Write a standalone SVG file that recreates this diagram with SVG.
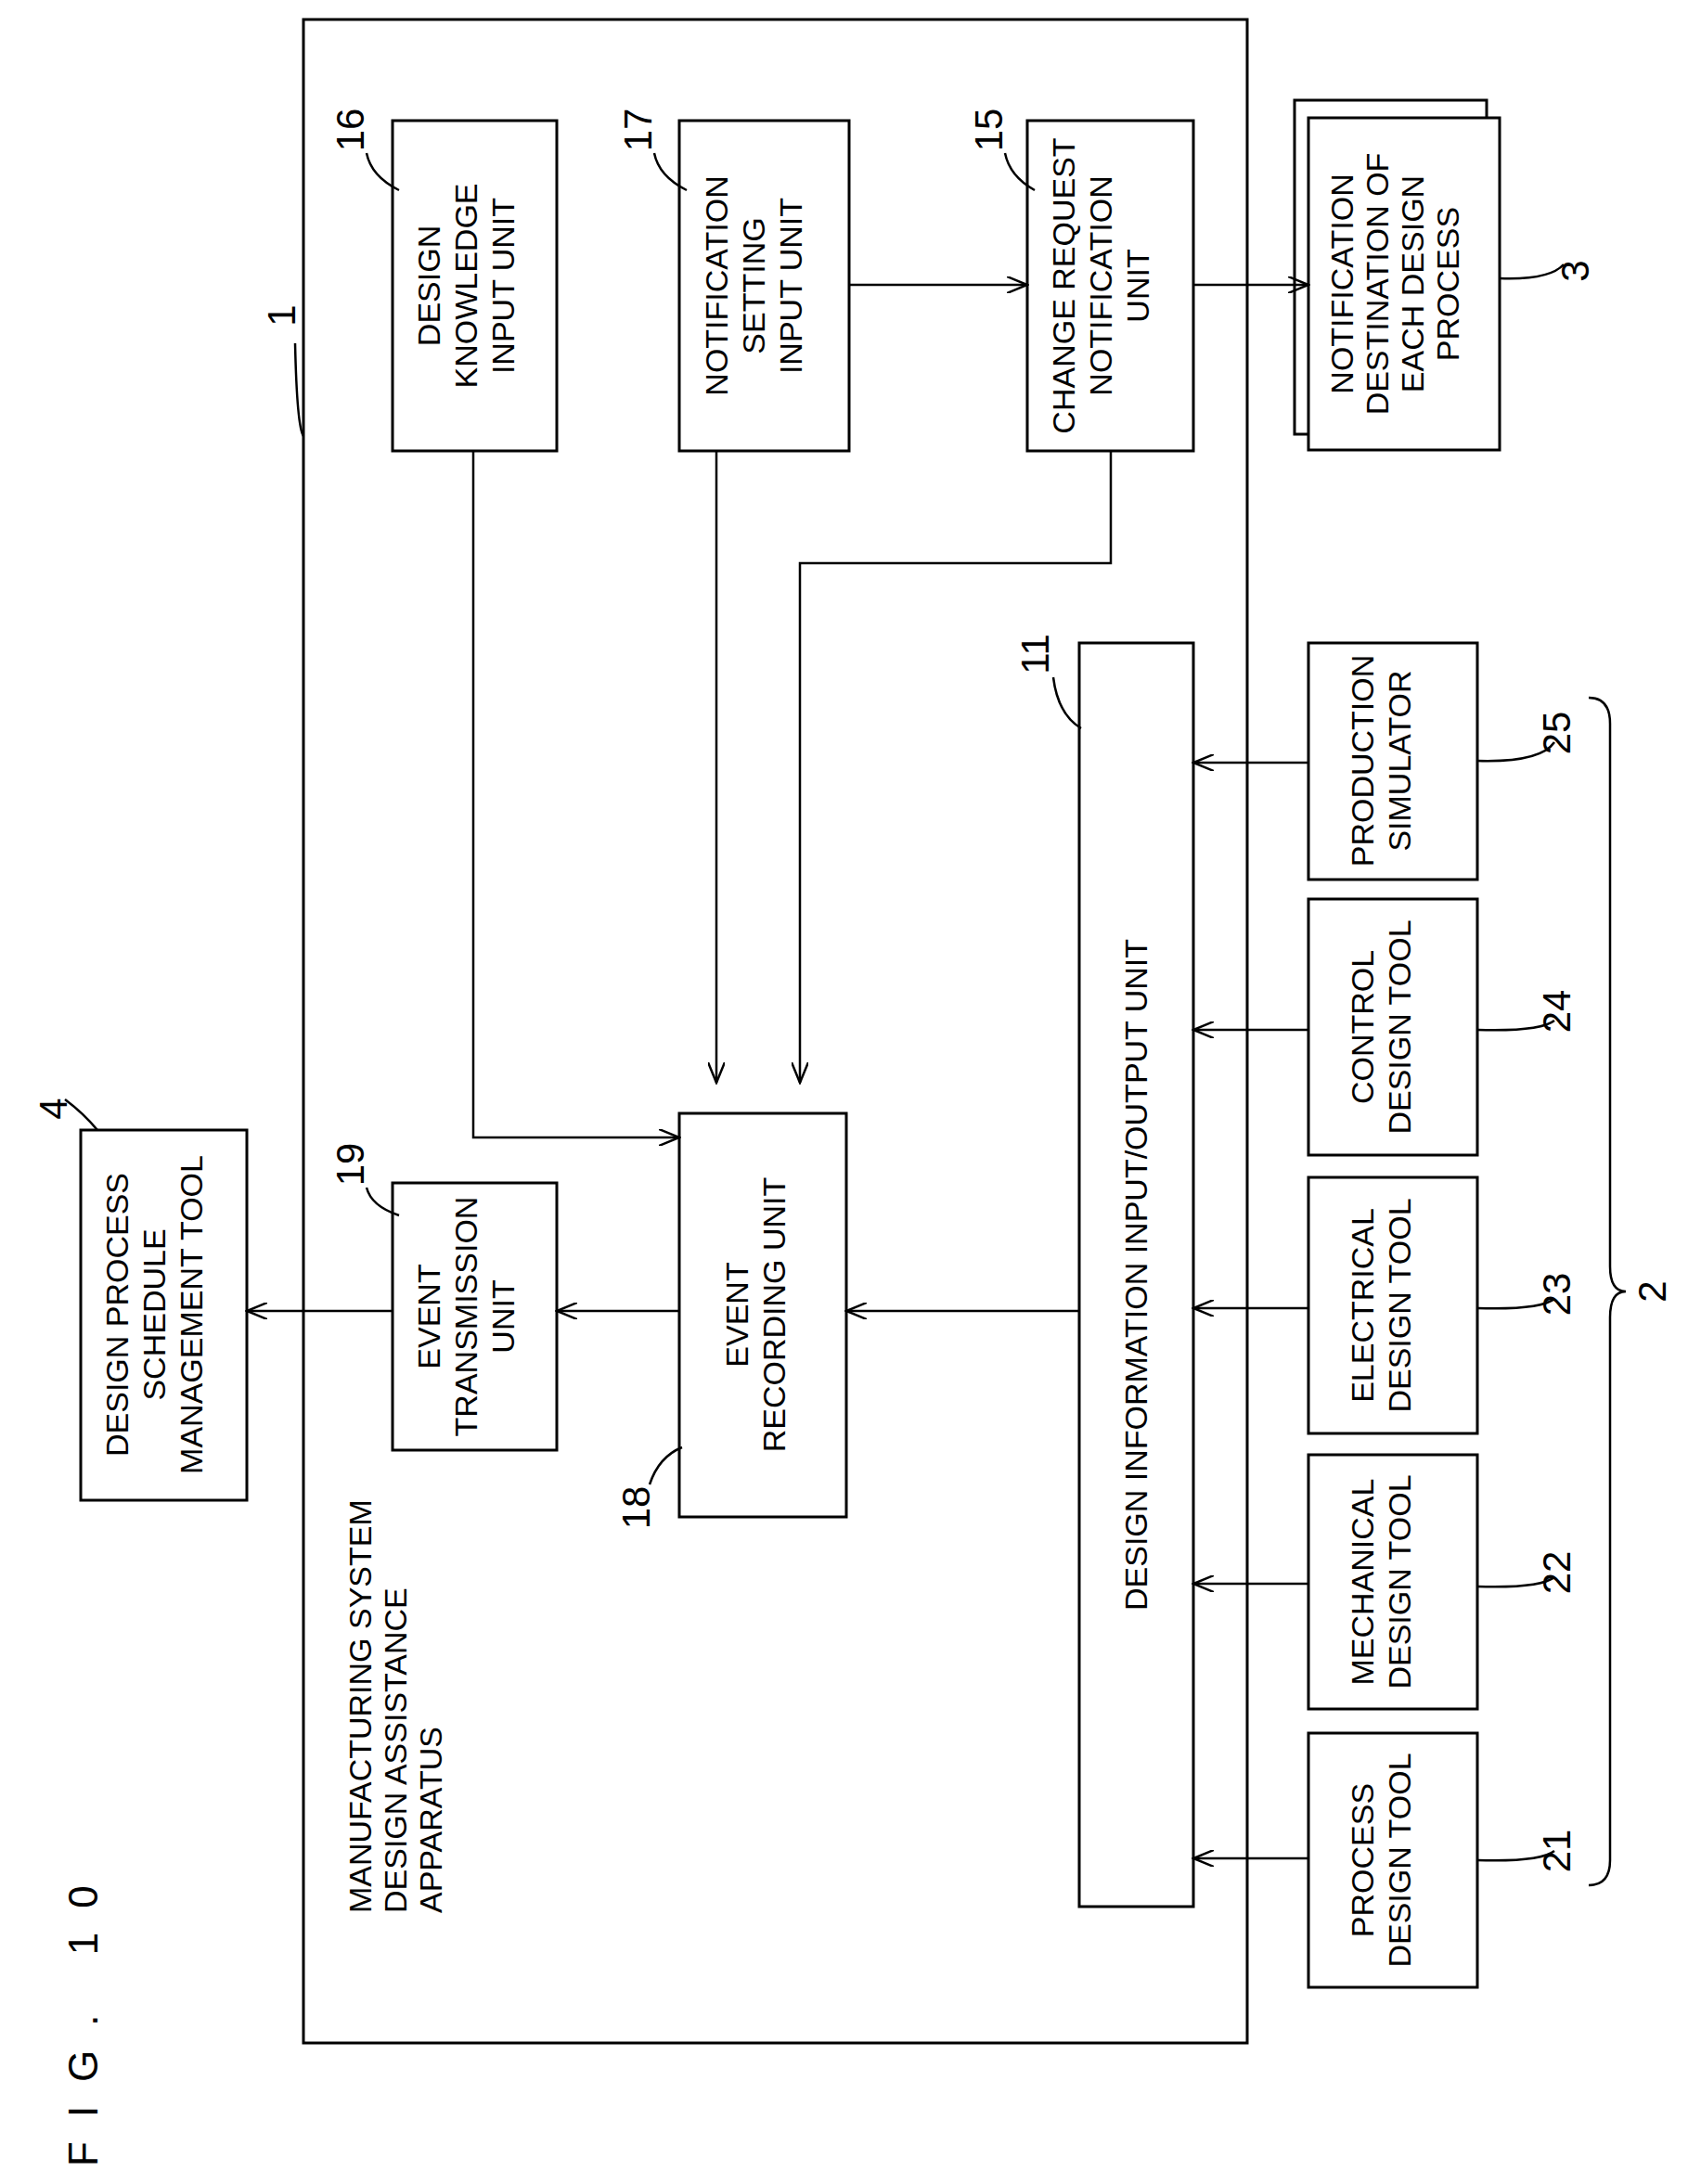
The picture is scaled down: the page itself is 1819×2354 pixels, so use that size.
<svg xmlns="http://www.w3.org/2000/svg" width="1819" height="2354" viewBox="0 0 1819 2354">
<defs>
<marker id="a" markerWidth="24" markerHeight="18" refX="22" refY="9" orient="auto" markerUnits="userSpaceOnUse"><path d="M0,0 L22,9 L0,18" fill="none" stroke="#000" stroke-width="2.5"/></marker>
<style>
rect{fill:#fff;stroke:#000;stroke-width:3}
text{font-family:"Liberation Sans",Arial,sans-serif;font-size:34px;fill:#000;text-anchor:middle}
.n{font-size:42px}
.c path,.c line,.lead{fill:none;stroke:#000;stroke-width:2.5}
</style>
</defs>
<rect fill="none" style="fill:none" x="327" y="21" width="1017" height="2181"/>
<text class="n" style="font-size:44px;letter-spacing:26px;text-anchor:start" transform="translate(105,2335) rotate(-90)">FIG. 10</text>
<text transform="translate(400,2062) rotate(-90)" style="text-anchor:start"><tspan x="0" y="0">MANUFACTURING SYSTEM</tspan><tspan x="0" dy="38">DESIGN ASSISTANCE</tspan><tspan x="0" dy="38">APPARATUS</tspan></text>
<text class="n" transform="translate(318,340) rotate(-90)">1</text>
<path class="lead" d="M318,370 Q320,460 327,470"/>
<g id="n16"><rect x="423" y="130" width="177" height="356"/><text transform="translate(474,308) rotate(-90)"><tspan x="0" y="0">DESIGN</tspan><tspan x="0" dy="40">KNOWLEDGE</tspan><tspan x="0" dy="40">INPUT UNIT</tspan></text><text class="n" transform="translate(392,140) rotate(-90)">16</text><path class="lead" d="M395,165 Q400,190 430,205"/></g>
<g id="n17"><rect x="732" y="130" width="183" height="356"/><text transform="translate(784,308) rotate(-90)"><tspan x="0" y="0">NOTIFICATION</tspan><tspan x="0" dy="40">SETTING</tspan><tspan x="0" dy="40">INPUT UNIT</tspan></text><text class="n" transform="translate(702,140) rotate(-90)">17</text><path class="lead" d="M705,165 Q710,190 740,205"/></g>
<g id="n15"><rect x="1107" y="130" width="179" height="356"/><text transform="translate(1158,308) rotate(-90)"><tspan x="0" y="0">CHANGE REQUEST</tspan><tspan x="0" dy="40">NOTIFICATION</tspan><tspan x="0" dy="40">UNIT</tspan></text><text class="n" transform="translate(1080,140) rotate(-90)">15</text><path class="lead" d="M1083,165 Q1088,190 1115,205"/></g>
<g id="n3"><rect x="1395" y="108" width="207" height="360"/><rect x="1410" y="127" width="206" height="358"/><text transform="translate(1458,306) rotate(-90)"><tspan x="0" y="0">NOTIFICATION</tspan><tspan x="0" dy="38">DESTINATION OF</tspan><tspan x="0" dy="38">EACH DESIGN</tspan><tspan x="0" dy="38">PROCESS</tspan></text><text class="n" transform="translate(1712,292) rotate(-90)">3</text><path class="lead" d="M1616,300 Q1670,302 1685,285"/></g>
<g id="n4"><rect x="87" y="1218" width="179" height="399"/><text transform="translate(138,1417) rotate(-90)"><tspan x="0" y="0">DESIGN PROCESS</tspan><tspan x="0" dy="40">SCHEDULE</tspan><tspan x="0" dy="40">MANAGEMENT TOOL</tspan></text><text class="n" transform="translate(72,1195) rotate(-90)">4</text><path class="lead" d="M70,1185 Q90,1200 105,1218"/></g>
<g id="n19"><rect x="423" y="1275" width="177" height="288"/><text transform="translate(474,1419) rotate(-90)"><tspan x="0" y="0">EVENT</tspan><tspan x="0" dy="40">TRANSMISSION</tspan><tspan x="0" dy="40">UNIT</tspan></text><text class="n" transform="translate(392,1255) rotate(-90)">19</text><path class="lead" d="M395,1280 Q400,1300 430,1310"/></g>
<g id="n18"><rect x="732" y="1200" width="180" height="435"/><text transform="translate(806,1417) rotate(-90)"><tspan x="0" y="0">EVENT</tspan><tspan x="0" dy="40">RECORDING UNIT</tspan></text><text class="n" transform="translate(700,1625) rotate(-90)">18</text><path class="lead" d="M700,1600 Q710,1570 735,1560"/></g>
<g id="n11"><rect x="1163" y="693" width="123" height="1362"/><text transform="translate(1236,1374) rotate(-90)">DESIGN INFORMATION INPUT/OUTPUT UNIT</text><text class="n" transform="translate(1130,705) rotate(-90)">11</text><path class="lead" d="M1135,730 Q1140,770 1165,785"/></g>
<g id="n25"><rect x="1410" y="693" width="182" height="255"/><text transform="translate(1480,820) rotate(-90)"><tspan x="0" y="0">PRODUCTION</tspan><tspan x="0" dy="40">SIMULATOR</tspan></text><text class="n" transform="translate(1692,790) rotate(-90)">25</text><path class="lead" d="M1592,820 Q1660,822 1675,800"/></g>
<g id="n24"><rect x="1410" y="969" width="182" height="276"/><text transform="translate(1480,1107) rotate(-90)"><tspan x="0" y="0">CONTROL</tspan><tspan x="0" dy="40">DESIGN TOOL</tspan></text><text class="n" transform="translate(1692,1090) rotate(-90)">24</text><path class="lead" d="M1592,1110 Q1660,1112 1675,1100"/></g>
<g id="n23"><rect x="1410" y="1269" width="182" height="276"/><text transform="translate(1480,1407) rotate(-90)"><tspan x="0" y="0">ELECTRICAL</tspan><tspan x="0" dy="40">DESIGN TOOL</tspan></text><text class="n" transform="translate(1692,1395) rotate(-90)">23</text><path class="lead" d="M1592,1410 Q1660,1412 1675,1400"/></g>
<g id="n22"><rect x="1410" y="1568" width="182" height="274"/><text transform="translate(1480,1705) rotate(-90)"><tspan x="0" y="0">MECHANICAL</tspan><tspan x="0" dy="40">DESIGN TOOL</tspan></text><text class="n" transform="translate(1692,1695) rotate(-90)">22</text><path class="lead" d="M1592,1710 Q1660,1712 1675,1700"/></g>
<g id="n21"><rect x="1410" y="1868" width="182" height="274"/><text transform="translate(1480,2005) rotate(-90)"><tspan x="0" y="0">PROCESS</tspan><tspan x="0" dy="40">DESIGN TOOL</tspan></text><text class="n" transform="translate(1692,1995) rotate(-90)">21</text><path class="lead" d="M1592,2005 Q1660,2007 1675,1995"/></g>
<g id="n2"><path class="lead" d="M1712,752 Q1735,752 1735,780 L1735,1365 Q1735,1392 1752,1392 Q1735,1392 1735,1420 L1735,2005 Q1735,2032 1712,2032"/><text class="n" transform="translate(1795,1392) rotate(-90)">2</text></g>
<g class="c" id="connectors">
<line x1="915" y1="307" x2="1107" y2="307" marker-end="url(#a)"/>
<line x1="1286" y1="307" x2="1410" y2="307" marker-end="url(#a)"/>
<path d="M510,486 L510,1226 L732,1226" marker-end="url(#a)"/>
<line x1="772" y1="486" x2="772" y2="1167" marker-end="url(#a)"/>
<path d="M1197,486 L1197,607 L862,607 L862,1167" marker-end="url(#a)"/>
<line x1="1163" y1="1413" x2="912" y2="1413" marker-end="url(#a)"/>
<line x1="732" y1="1413" x2="600" y2="1413" marker-end="url(#a)"/>
<line x1="423" y1="1413" x2="266" y2="1413" marker-end="url(#a)"/>
<line x1="1410" y1="822" x2="1286" y2="822" marker-end="url(#a)"/>
<line x1="1410" y1="1110" x2="1286" y2="1110" marker-end="url(#a)"/>
<line x1="1410" y1="1410" x2="1286" y2="1410" marker-end="url(#a)"/>
<line x1="1410" y1="1707" x2="1286" y2="1707" marker-end="url(#a)"/>
<line x1="1410" y1="2003" x2="1286" y2="2003" marker-end="url(#a)"/>
</g>
</svg>
